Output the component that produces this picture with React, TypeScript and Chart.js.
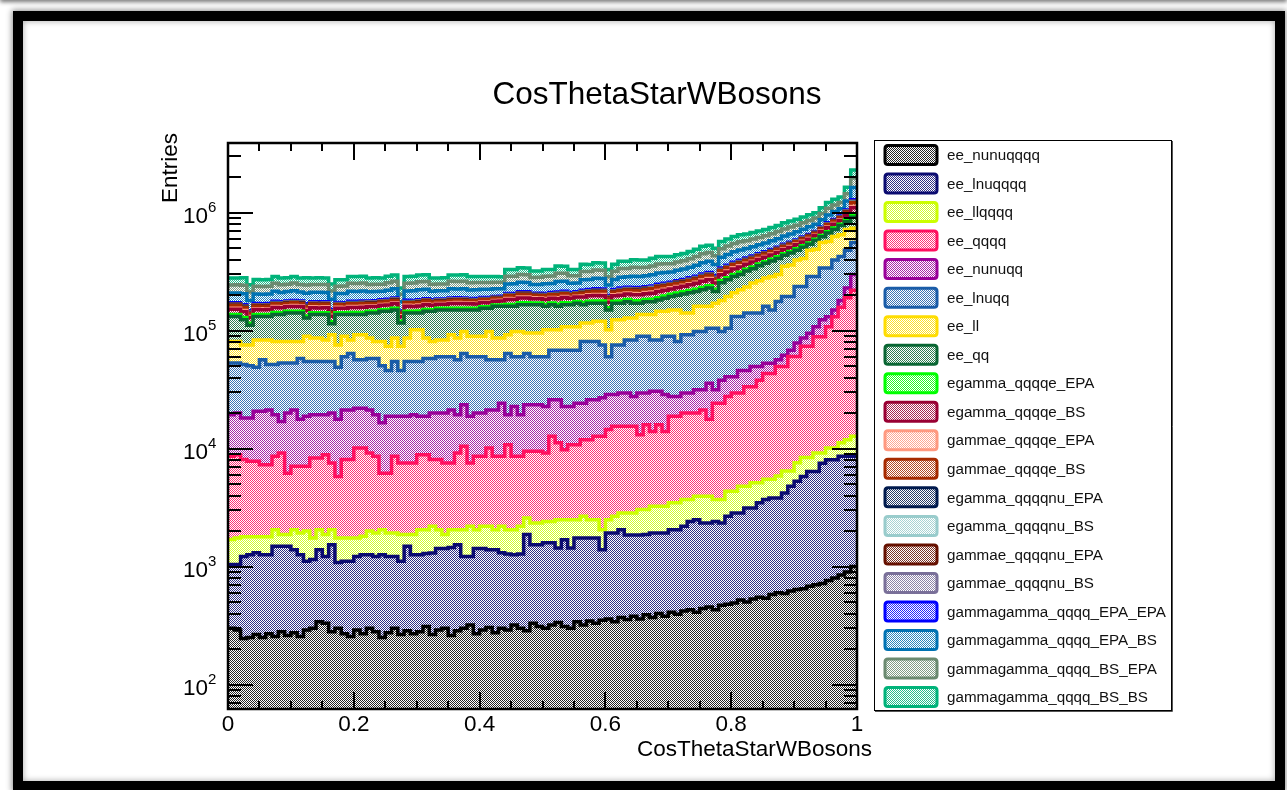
import React, { useEffect, useRef } from "react";
import { Chart, registerables } from "chart.js";

Chart.register(...registerables);

// Histogram binning and axis ranges
const BIN_COUNT = 100;
const X_MIN = 0;
const X_MAX = 1;
const Y_MIN = 62;
const Y_MAX = 3.9e6;

const X_TICK_LABELS = ["0", "0.2", "0.4", "0.6", "0.8", "1"];
const Y_TICK_EXPONENTS = [2, 3, 4, 5, 6];

const TITLE = "CosThetaStarWBosons";
const X_TITLE = "CosThetaStarWBosons";
const Y_TITLE = "Entries";

// Samples, bottom of the stack first
const SAMPLE_NAMES = [
  "ee_nunuqqqq",
  "ee_lnuqqqq",
  "ee_llqqqq",
  "ee_qqqq",
  "ee_nunuqq",
  "ee_lnuqq",
  "ee_ll",
  "ee_qq",
  "egamma_qqqqe_EPA",
  "egamma_qqqqe_BS",
  "gammae_qqqqe_EPA",
  "gammae_qqqqe_BS",
  "egamma_qqqqnu_EPA",
  "egamma_qqqqnu_BS",
  "gammae_qqqqnu_EPA",
  "gammae_qqqqnu_BS",
  "gammagamma_qqqq_EPA_EPA",
  "gammagamma_qqqq_EPA_BS",
  "gammagamma_qqqq_BS_EPA",
  "gammagamma_qqqq_BS_BS",
];

const SAMPLE_COLORS = [
  "#000000",
  "#0b0b70",
  "#ccff00",
  "#ff0f5f",
  "#990099",
  "#1a5ca8",
  "#ffdd00",
  "#0a6633",
  "#00ff00",
  "#990033",
  "#ff9980",
  "#a62a00",
  "#001a4d",
  "#99cccc",
  "#661100",
  "#7a7099",
  "#0000ff",
  "#0073b3",
  "#6b8a70",
  "#00b37a",
];

// Entries per bin for each sample
const ee_nunuqqqq = [
  300, 290, 245, 250, 265, 250, 270, 255, 280, 260,
  275, 255, 290, 300, 340, 330, 280, 300, 270, 255,
  290, 270, 300, 280, 250, 275, 300, 265, 285, 270,
  280, 310, 265, 290, 300, 260, 285, 300, 320, 270,
  290, 305, 275, 300, 290, 320, 300, 285, 330, 310,
  300, 320, 335, 310, 300, 340, 320, 345, 330, 350,
  360, 340, 370, 355, 380, 360, 390, 370, 400, 380,
  410, 395, 420, 430, 410, 440, 455, 430, 470, 480,
  490, 520, 500, 530, 550, 540, 580, 600, 590, 620,
  640, 650, 680, 700, 720, 760, 800, 850, 900, 1000,
];

const ee_lnuqqqq = [
  740, 750, 975, 1010, 1045, 1010, 990, 1235, 1210, 1230,
  1115, 1005, 820, 850, 1050, 890, 1250, 780, 840, 855,
  930, 990, 960, 940, 1010, 945, 920, 845, 1205, 990,
  980, 980, 1035, 1130, 1120, 1190, 1245, 920, 900, 1150,
  1130, 1085, 1115, 1010, 990, 940, 980, 1585, 1200, 1220,
  1290, 1270, 1105, 1380, 1140, 1410, 1430, 1405, 1420, 1040,
  1570, 1590, 1680, 1495, 1470, 1490, 1480, 1560, 1530, 1550,
  1640, 1655, 1780, 1980, 2090, 1900, 1885, 1980, 1870, 2190,
  2360, 2330, 2640, 2610, 2920, 3160, 3240, 3220, 3610, 4180,
  4640, 5150, 5720, 5700, 6810, 7280, 7240, 7750, 7700, 7600,
];

const ee_llqqqq = [
  660, 710, 570, 530, 480, 530, 530, 560, 380, 380,
  660, 670, 890, 600, 660, 650, 520, 670, 640, 640,
  530, 550, 740, 710, 790, 710, 710, 760, 380, 610,
  790, 760, 900, 630, 450, 600, 520, 830, 980, 630,
  780, 810, 660, 890, 770, 790, 920, 710, 810, 810,
  820, 820, 1060, 810, 1060, 750, 920, 750, 750, 660,
  570, 740, 800, 1000, 1000, 1190, 1170, 1320, 1320, 1320,
  1420, 1420, 1500, 1290, 1450, 1610, 1610, 1290, 1360, 1680,
  1500, 1950, 1660, 2000, 1670, 1790, 1670, 2040, 2270, 1670,
  2320, 2600, 2000, 2800, 1670, 2060, 2060, 2600, 3300, 4100,
];

const ee_qqqq = [
  6900, 7140, 6280, 6010, 6010, 5520, 5520, 6550, 7310, 4320,
  5030, 5150, 5080, 6570, 6270, 7020, 5500, 4050, 6320, 6320,
  8350, 8290, 7180, 6670, 4140, 4260, 6670, 5680, 5680, 5680,
  6840, 6840, 5870, 6020, 5680, 5500, 7130, 8410, 5350, 6550,
  6400, 7900, 6550, 6400, 8750, 6550, 6400, 6900, 7140, 7140,
  6770, 10290, 8700, 7300, 8300, 8300, 9230, 9400, 10200, 10650,
  12000, 12830, 12650, 12650, 12650, 10060, 12860, 10750, 12650, 10750,
  15330, 15330, 16300, 16300, 16050, 17350, 13750, 20500, 20500, 23250,
  25250, 24800, 28700, 28360, 32860, 37810, 37810, 43840, 43230, 54030,
  52900, 65500, 65500, 79800, 79800, 97900, 120900, 146800, 178100, 207300,
];

const ee_nunuqq = [
  10800, 11110, 10130, 10400, 12900, 13390, 13990, 10800, 7820, 13810,
  14220, 10620, 11720, 11080, 11080, 10510, 12450, 11900, 13230, 13230,
  11900, 11900, 12120, 10800, 10410, 12610, 10200, 11250, 11250, 11850,
  9910, 9910, 11930, 11930, 12450, 13750, 10220, 13140, 11250, 11400,
  11400, 11200, 12700, 15600, 8600, 14200, 10800, 14120, 14120, 14120,
  13620, 13300, 14800, 13000, 12000, 13400, 12300, 14100, 13300, 14300,
  14200, 13200, 14100, 14100, 12100, 16500, 13700, 16600, 14700, 14700,
  8800, 8800, 9600, 9600, 11600, 10300, 18200, 7400, 13800, 13000,
  11000, 16400, 12500, 16200, 11700, 9700, 9700, 6900, 12300, 7800,
  18200, 12800, 21100, 19000, 35000, 23000, 19000, 22000, 40000, 80000,
];

const ee_lnuqq = [
  33800, 33200, 33500, 32100, 28200, 35900, 30400, 32300, 36200, 33200,
  31900, 40500, 36100, 35500, 35500, 35500, 34900, 31200, 38700, 42700,
  34600, 34600, 36900, 38800, 33700, 27200, 36100, 27200, 36100, 35500,
  36100, 39400, 38200, 40000, 40000, 38700, 37200, 40400, 41200, 40000,
  40000, 35300, 35300, 32400, 44600, 37200, 40600, 40400, 36400, 36400,
  37200, 42300, 42300, 45500, 45500, 44100, 56900, 55100, 55100, 48600,
  31300, 46900, 46000, 53900, 55900, 59900, 59900, 52900, 52900, 60800,
  61900, 53500, 62900, 62900, 67000, 67000, 69100, 73400, 60600, 64400,
  91400, 86000, 95000, 91300, 91300, 108000, 97000, 120400, 133000, 126700,
  158300, 150300, 193000, 180000, 216000, 209000, 248000, 245000, 250000, 260000,
];

const ee_ll = [
  27900, 27900, 23900, 25300, 34600, 26900, 31800, 29400, 27900, 27900,
  27900, 22900, 34600, 31600, 31600, 28600, 37600, 26700, 29500, 19500,
  35900, 35900, 28300, 22900, 30800, 27800, 31600, 27800, 31600, 47100,
  47100, 28300, 22900, 23500, 23500, 32500, 29900, 34600, 29500, 29500,
  29500, 42000, 29900, 29900, 28500, 38600, 38600, 31700, 35700, 35700,
  42000, 33700, 33700, 39700, 39700, 39700, 34900, 34900, 38900, 44400,
  42000, 48400, 48400, 44500, 44500, 47500, 47500, 53500, 62500, 56500,
  60500, 68900, 48500, 48500, 62400, 62400, 56000, 66000, 81400, 90000,
  78000, 90000, 94000, 113000, 124000, 119000, 138000, 123000, 157000, 165000,
  161000, 173000, 192000, 202000, 220000, 230000, 230000, 225000, 240000, 180000,
];

const ee_qq = [
  50900, 50900, 48400, 35400, 48500, 48500, 48500, 55900, 55900, 59900,
  59900, 59900, 38500, 50500, 50500, 53500, 22000, 61400, 47500, 53500,
  44500, 44500, 54500, 59900, 64900, 72200, 63500, 42200, 54500, 39000,
  39000, 59500, 64900, 66500, 66500, 57500, 63500, 51400, 60500, 60500,
  65500, 56400, 74500, 74500, 68500, 62400, 67400, 70300, 70300, 70300,
  59000, 64000, 59000, 58000, 58000, 63000, 50000, 55000, 51000, 51000,
  48000, 47000, 47000, 48000, 43000, 34000, 39000, 39000, 36000, 42000,
  45000, 50000, 64000, 69000, 54000, 61000, 69000, 44000, 75000, 75000,
  78000, 78000, 85000, 81000, 90000, 92000, 102000, 110000, 83000, 95000,
  82000, 100000, 60000, 90000, 65000, 102000, 92000, 130000, 120000, 175000,
];

const egamma_qqqqe_EPA = [
  5200, 5200, 5500, 4700, 4800, 4800, 4800, 5300, 5000, 4900,
  5100, 4900, 5300, 5000, 5000, 5000, 4700, 4700, 4700, 5300,
  5300, 5300, 4900, 4900, 4700, 5000, 5100, 4000, 5100, 5100,
  5500, 5300, 4700, 4600, 4600, 5100, 5100, 5100, 4800, 4800,
  4700, 4700, 4400, 4400, 5900, 5900, 6100, 6100, 5400, 5400,
  5900, 5700, 6700, 6500, 5700, 5600, 7000, 6800, 7100, 7100,
  6300, 6800, 7600, 7400, 7900, 7900, 7800, 8200, 8500, 8300,
  8100, 8400, 8600, 9100, 9600, 10400, 10500, 10000, 11000, 11600,
  12000, 12300, 11900, 12100, 12100, 12200, 12600, 13000, 13500, 13800,
  14000, 14400, 14700, 14700, 16600, 19200, 20300, 20300, 28000, 48500,
];

const egamma_qqqqe_BS = [
  14800, 15000, 15500, 13500, 14000, 13500, 14000, 15000, 14500, 14000,
  14500, 14000, 15000, 14500, 14000, 14500, 13500, 13500, 13000, 15000,
  15000, 15500, 14000, 14000, 13500, 14000, 14500, 11500, 15000, 14500,
  15500, 15000, 13500, 13000, 13000, 14500, 15000, 14500, 14000, 13500,
  13500, 13000, 12500, 13000, 17000, 16500, 17500, 17500, 15500, 15000,
  17000, 16500, 19000, 18500, 16500, 16000, 20000, 19500, 20500, 20000,
  18000, 19500, 21500, 21000, 23000, 22500, 22000, 23500, 24000, 24000,
  23000, 24000, 24500, 26000, 27500, 30000, 30000, 28500, 31500, 33000,
  34000, 35000, 34000, 34500, 34500, 35000, 36000, 37000, 38500, 39500,
  40000, 41000, 42000, 42000, 47500, 55000, 58000, 58000, 80000, 138000,
];

const gammae_qqqqe_EPA = [
  3000, 3000, 3100, 2700, 2800, 2800, 2800, 3000, 2900, 2800,
  2900, 2800, 3000, 2900, 2900, 2900, 2700, 2700, 2700, 3000,
  3000, 3000, 2800, 2800, 2700, 2800, 2900, 2300, 2900, 2900,
  3100, 3000, 2700, 2600, 2600, 2900, 2900, 2900, 2800, 2800,
  2700, 2700, 2500, 2500, 3400, 3400, 3500, 3500, 3100, 3100,
  3400, 3300, 3800, 3700, 3300, 3200, 4000, 3900, 4100, 4100,
  3600, 3900, 4300, 4200, 4500, 4500, 4400, 4700, 4900, 4700,
  4600, 4800, 4900, 5200, 5500, 6000, 6000, 5700, 6300, 6600,
  6800, 7000, 6800, 6900, 6900, 7000, 7200, 7400, 7700, 7900,
  8000, 8200, 8400, 8400, 9500, 11000, 11600, 11600, 16000, 27700,
];

const gammae_qqqqe_BS = [
  8900, 8800, 9400, 8000, 8300, 8300, 8200, 9100, 8600, 8300,
  8800, 8300, 9100, 8600, 8600, 8500, 8000, 8000, 8000, 9100,
  9000, 9100, 8300, 8400, 8000, 8500, 8800, 6800, 8800, 8900,
  9400, 9000, 8000, 7800, 7800, 8800, 8800, 8900, 8300, 8200,
  8000, 8000, 7600, 7600, 10100, 10200, 10400, 10500, 9200, 9300,
  10100, 9800, 11500, 11200, 9800, 9500, 11900, 11600, 12200, 12300,
  10800, 11600, 13000, 12700, 13600, 13600, 13300, 14000, 14600, 14200,
  13800, 14400, 14700, 15600, 16500, 17900, 18000, 17100, 18900, 19800,
  20500, 21000, 20400, 20700, 20700, 20900, 21600, 22200, 23100, 23700,
  24000, 24600, 25200, 25200, 28500, 32900, 34800, 34800, 48000, 83000,
];

const egamma_qqqqnu_EPA = [
  1200, 1200, 1250, 1070, 1100, 1100, 1100, 1200, 1140, 1110,
  1180, 1110, 1220, 1140, 1140, 1140, 1070, 1060, 1060, 1210,
  1210, 1210, 1110, 1110, 1070, 1140, 1180, 910, 1180, 1180,
  1250, 1210, 1070, 1040, 1040, 1180, 1180, 1180, 1100, 1100,
  1060, 1060, 1020, 1020, 1350, 1350, 1390, 1390, 1230, 1230,
  1350, 1310, 1530, 1490, 1310, 1270, 1590, 1550, 1630, 1630,
  1440, 1550, 1740, 1700, 1820, 1820, 1780, 1870, 1940, 1900,
  1840, 1920, 1960, 2080, 2200, 2380, 2400, 2280, 2520, 2640,
  2740, 2800, 2720, 2760, 2760, 2780, 2880, 2960, 3080, 3160,
  3200, 3280, 3360, 3360, 3800, 4380, 4640, 4640, 6400, 11100,
];

const egamma_qqqqnu_BS = [
  890, 890, 940, 800, 830, 830, 830, 910, 860, 830,
  880, 830, 910, 860, 860, 860, 800, 800, 800, 910,
  910, 910, 830, 830, 800, 850, 880, 680, 880, 880,
  940, 910, 800, 780, 780, 880, 880, 880, 830, 830,
  800, 800, 760, 760, 1010, 1010, 1040, 1040, 920, 920,
  1010, 980, 1150, 1120, 980, 950, 1190, 1160, 1220, 1220,
  1080, 1160, 1300, 1270, 1360, 1360, 1330, 1400, 1460, 1420,
  1380, 1440, 1470, 1560, 1650, 1790, 1800, 1710, 1890, 1980,
  2050, 2100, 2040, 2070, 2070, 2090, 2160, 2220, 2310, 2370,
  2400, 2460, 2520, 2520, 2850, 3290, 3480, 3480, 4800, 8300,
];

const gammae_qqqqnu_EPA = [
  1150, 1250, 1200, 1100, 1080, 1120, 1090, 1230, 1120, 1130,
  1160, 1130, 1200, 1160, 1120, 1150, 1060, 1080, 1050, 1220,
  1190, 1230, 1100, 1120, 1060, 1150, 1170, 920, 1190, 1170,
  1260, 1200, 1080, 1030, 1050, 1170, 1190, 1170, 1110, 1090,
  1070, 1050, 1030, 1010, 1360, 1340, 1400, 1380, 1240, 1220,
  1360, 1300, 1540, 1480, 1320, 1260, 1600, 1540, 1640, 1620,
  1450, 1540, 1750, 1690, 1830, 1810, 1790, 1860, 1950, 1890,
  1850, 1910, 1970, 2070, 2210, 2370, 2410, 2270, 2530, 2630,
  2750, 2790, 2730, 2750, 2770, 2770, 2890, 2950, 3090, 3150,
  3210, 3270, 3370, 3350, 3810, 4370, 4650, 4630, 6410, 11000,
];

const gammae_qqqqnu_BS = [
  870, 910, 930, 810, 820, 840, 820, 920, 850, 840,
  870, 840, 900, 870, 850, 870, 790, 810, 790, 920,
  900, 920, 820, 840, 790, 860, 870, 690, 890, 870,
  950, 900, 810, 770, 790, 870, 890, 870, 840, 820,
  810, 790, 770, 750, 1020, 1000, 1050, 1030, 930, 910,
  1020, 970, 1160, 1110, 990, 940, 1200, 1150, 1230, 1210,
  1090, 1150, 1310, 1260, 1370, 1350, 1340, 1390, 1470, 1410,
  1390, 1430, 1480, 1550, 1660, 1780, 1810, 1700, 1900, 1970,
  2060, 2090, 2050, 2060, 2080, 2080, 2170, 2210, 2320, 2360,
  2410, 2450, 2530, 2510, 2860, 3280, 3490, 3470, 4810, 8290,
];

const gammagamma_qqqq_EPA_EPA = [
  4100, 4100, 4400, 3800, 3900, 3900, 3900, 4200, 4000, 3900,
  4100, 3900, 4300, 4000, 4000, 4000, 3800, 3700, 3700, 4200,
  4200, 4200, 3900, 3900, 3800, 4000, 4100, 3200, 4100, 4100,
  4400, 4200, 3800, 3600, 3600, 4100, 4100, 4100, 3900, 3900,
  3700, 3700, 3600, 3600, 4700, 4700, 4900, 4900, 4300, 4300,
  4700, 4600, 5300, 5200, 4600, 4500, 5600, 5400, 5700, 5700,
  5000, 5400, 6100, 5900, 6400, 6400, 6200, 6600, 6800, 6600,
  6400, 6700, 6900, 7300, 7700, 8300, 8400, 8000, 8800, 9200,
  9600, 9800, 9500, 9700, 9700, 9700, 10100, 10400, 10800, 11100,
  11200, 11500, 11800, 11800, 13300, 15300, 16200, 16200, 22400, 38800,
];

const gammagamma_qqqq_EPA_BS = [
  37000, 36500, 39500, 33000, 35000, 34000, 35500, 38000, 35000, 35500,
  37000, 34000, 38500, 35500, 36500, 35000, 33500, 33000, 34000, 38000,
  37500, 38500, 34500, 35500, 33000, 36000, 37000, 29000, 36000, 37500,
  39000, 38000, 33000, 32500, 33000, 37000, 36000, 37500, 34000, 35000,
  33000, 34000, 32000, 31000, 42000, 43000, 44000, 43000, 38000, 39000,
  42500, 41000, 48000, 46000, 41500, 39500, 50000, 48000, 51500, 50500,
  45000, 48500, 54500, 53000, 57000, 56000, 55500, 58500, 61000, 59000,
  57500, 60000, 61500, 65000, 69000, 74500, 75500, 71000, 79000, 82500,
  85500, 87500, 85000, 86500, 86000, 87000, 90000, 92500, 96000, 99000,
  100000, 102500, 105000, 105000, 119000, 137000, 145000, 145000, 200000, 346000,
];

const gammagamma_qqqq_BS_EPA = [
  35000, 36000, 37000, 32500, 33000, 33500, 32500, 36500, 34500, 33000,
  35500, 33500, 36000, 34500, 34000, 35000, 32000, 32000, 32500, 36500,
  36000, 36500, 33000, 33500, 32500, 34000, 35500, 27500, 35000, 35000,
  37500, 36500, 32000, 31500, 31000, 35500, 35500, 35000, 33000, 33500,
  32000, 31500, 30500, 30500, 40500, 40500, 42000, 41500, 37000, 37000,
  40500, 39500, 46000, 44500, 39500, 38000, 48000, 46500, 49000, 49000,
  43000, 46500, 52000, 51000, 54500, 54500, 53000, 56000, 58500, 57000,
  55000, 57500, 59000, 62500, 66000, 71500, 72000, 68500, 75500, 79000,
  82000, 84000, 81500, 83000, 83000, 83500, 86500, 89000, 92500, 95000,
  96000, 98500, 101000, 101000, 114000, 131500, 139000, 139000, 192000, 332000,
];

const gammagamma_qqqq_BS_BS = [
  36000, 35000, 38000, 31500, 33500, 33000, 34000, 36000, 34000, 33500,
  35000, 33000, 37000, 34000, 34500, 33500, 32500, 31500, 31500, 36000,
  36500, 36000, 33500, 33000, 32000, 34500, 35000, 27000, 35500, 35500,
  37000, 36000, 32500, 31000, 31500, 35000, 35000, 35500, 33000, 33000,
  32000, 32000, 30500, 30000, 41000, 40500, 41500, 42000, 37000, 36500,
  40500, 39000, 46000, 44500, 39000, 38500, 48000, 46500, 49000, 49500,
  43500, 46500, 52000, 51000, 54000, 55000, 53500, 56500, 58000, 57000,
  55500, 57500, 58500, 62000, 66000, 71500, 72000, 68000, 75500, 79000,
  82000, 84000, 81500, 82500, 83000, 83500, 86500, 88500, 92500, 94500,
  96000, 98500, 100500, 101000, 114000, 131500, 139500, 139000, 192000, 332000,
];

const SAMPLE_VALUES = [
  ee_nunuqqqq,
  ee_lnuqqqq,
  ee_llqqqq,
  ee_qqqq,
  ee_nunuqq,
  ee_lnuqq,
  ee_ll,
  ee_qq,
  egamma_qqqqe_EPA,
  egamma_qqqqe_BS,
  gammae_qqqqe_EPA,
  gammae_qqqqe_BS,
  egamma_qqqqnu_EPA,
  egamma_qqqqnu_BS,
  gammae_qqqqnu_EPA,
  gammae_qqqqnu_BS,
  gammagamma_qqqq_EPA_EPA,
  gammagamma_qqqq_EPA_BS,
  gammagamma_qqqq_BS_EPA,
  gammagamma_qqqq_BS_BS,
];

const FONT = '"Liberation Sans", Arial, Helvetica, sans-serif';
const CANVAS_W = 1287;
const CANVAS_H = 790;

// Blend a hex colour towards white by fraction t
function tint(hex: string, t: number): string {
  const n = parseInt(hex.slice(1), 16);
  const r = (n >> 16) & 255, g = (n >> 8) & 255, b = n & 255;
  const f = (c: number) => Math.round(c + (255 - c) * t);
  return `rgb(${f(r)},${f(g)},${f(b)})`;
}

// One-pixel checkerboard fill in the sample colour
function checkerPattern(color: string): CanvasPattern {
  const tile = document.createElement("canvas");
  tile.width = 2;
  tile.height = 2;
  const g = tile.getContext("2d")!;
  g.fillStyle = "#ffffff";
  g.fillRect(0, 0, 2, 2);
  g.fillStyle = tint(color, 0.15);
  g.fillRect(0, 0, 1, 1);
  g.fillRect(1, 1, 1, 1);
  return g.createPattern(tile, "repeat")!;
}

function roundRect(ctx: CanvasRenderingContext2D, x: number, y: number, w: number, h: number, r: number) {
  ctx.beginPath();
  ctx.moveTo(x + r, y);
  ctx.lineTo(x + w - r, y);
  ctx.quadraticCurveTo(x + w, y, x + w, y + r);
  ctx.lineTo(x + w, y + h - r);
  ctx.quadraticCurveTo(x + w, y + h, x + w - r, y + h);
  ctx.lineTo(x + r, y + h);
  ctx.quadraticCurveTo(x, y + h, x, y + h - r);
  ctx.lineTo(x, y + r);
  ctx.quadraticCurveTo(x, y, x + r, y);
  ctx.closePath();
}

// Frame, inward ticks, labels, titles and legend
const decorPlugin = {
  id: "rootDecor",
  afterDraw(chart: any) {
    const ctx: CanvasRenderingContext2D = chart.ctx;
    const a = chart.chartArea;
    const xs = chart.scales.x;
    const ys = chart.scales.y;
    ctx.save();

    const seg = (x1: number, y1: number, x2: number, y2: number) => {
      ctx.beginPath();
      ctx.moveTo(x1, y1);
      ctx.lineTo(x2, y2);
      ctx.stroke();
    };

    ctx.strokeStyle = "#000";
    ctx.lineWidth = 2;
    ctx.lineCap = "butt";

    // y ticks, left and right
    for (let e = 1; e <= 7; e++) {
      for (let m = 1; m <= 9; m++) {
        const v = m * Math.pow(10, e);
        if (v < Y_MIN || v > Y_MAX) continue;
        const py = Math.round(ys.getPixelForValue(v));
        const len = m === 1 ? 25 : 13;
        seg(a.left, py, a.left + len, py);
        seg(a.right, py, a.right - len, py);
      }
    }

    // x ticks, bottom and top
    for (let i = 0; i <= 20; i++) {
      const v = X_MIN + (i * (X_MAX - X_MIN)) / 20;
      const px = Math.round(xs.getPixelForValue(v));
      const len = i % 4 === 0 ? 17 : 8;
      seg(px, a.bottom, px, a.bottom - len);
      seg(px, a.top, px, a.top + len);
    }

    // frame
    ctx.lineWidth = 2.5;
    ctx.strokeRect(a.left, a.top, a.right - a.left, a.bottom - a.top);

    // x tick labels
    ctx.fillStyle = "#000";
    ctx.font = `22.5px ${FONT}`;
    ctx.textAlign = "center";
    ctx.textBaseline = "alphabetic";
    X_TICK_LABELS.forEach((lab) => {
      const px = xs.getPixelForValue(parseFloat(lab));
      ctx.fillText(lab, px, 731);
    });

    // y tick labels 10^n
    Y_TICK_EXPONENTS.forEach((e) => {
      const py = ys.getPixelForValue(Math.pow(10, e));
      ctx.font = `22.5px ${FONT}`;
      ctx.textAlign = "right";
      ctx.fillText("10", 208, py + 10);
      ctx.font = `15px ${FONT}`;
      ctx.textAlign = "left";
      ctx.fillText(String(e), 208, py - 1);
    });

    // titles
    ctx.font = `31.5px ${FONT}`;
    ctx.textAlign = "center";
    ctx.fillText(TITLE, 657, 104);

    ctx.font = `22.5px ${FONT}`;
    ctx.textAlign = "right";
    ctx.fillText(X_TITLE, 872, 756);

    ctx.save();
    ctx.translate(177, 133);
    ctx.rotate(-Math.PI / 2);
    ctx.textAlign = "right";
    ctx.fillText(Y_TITLE, 0, 0);
    ctx.restore();

    // legend
    const lx = 874, ly = 140, lw = 297, lh = 570;
    ctx.fillStyle = "#fff";
    ctx.fillRect(lx, ly, lw, lh);
    ctx.strokeStyle = "#000";
    ctx.lineWidth = 1;
    ctx.strokeRect(lx + 0.5, ly + 0.5, lw, lh);
    ctx.strokeStyle = "#555";
    seg(lx + 1, ly + lh + 1.5, lx + lw + 1.5, ly + lh + 1.5);
    seg(lx + lw + 1.5, ly + 1, lx + lw + 1.5, ly + lh + 1.5);

    const rowH = 28.53;
    SAMPLE_NAMES.forEach((name, k) => {
      const cy = 155 + k * rowH;
      roundRect(ctx, 885, cy - 9.5, 52, 19, 3);
      ctx.fillStyle = checkerPattern(SAMPLE_COLORS[k]);
      ctx.fill();
      ctx.strokeStyle = SAMPLE_COLORS[k];
      ctx.lineWidth = 3;
      ctx.stroke();
      ctx.fillStyle = "#111";
      ctx.font = `15.2px ${FONT}`;
      ctx.textAlign = "left";
      ctx.textBaseline = "middle";
      ctx.fillText(name, 947, cy + 1);
      ctx.textBaseline = "alphabetic";
    });

    ctx.restore();
  },
};

export default function App() {
  const canvasRef = useRef<HTMLCanvasElement>(null);

  useEffect(() => {
    const canvas = canvasRef.current;
    if (!canvas) return;

    const datasets = SAMPLE_NAMES.map((name, k) => {
      const vals = SAMPLE_VALUES[k];
      const pts = vals.map((v, i) => ({ x: X_MIN + (i * (X_MAX - X_MIN)) / BIN_COUNT, y: v }));
      pts.push({ x: X_MAX, y: vals[vals.length - 1] });
      return {
        label: name,
        data: pts,
        borderColor: SAMPLE_COLORS[k],
        borderWidth: 3.5,
        backgroundColor: checkerPattern(SAMPLE_COLORS[k]),
        fill: k === 0 ? "start" : "-1",
        stepped: true,
        pointRadius: 0,
        borderJoinStyle: "miter",
        borderCapStyle: "butt",
      };
    });

    const chart = new Chart(canvas, {
      type: "line",
      data: { datasets } as any,
      options: {
        responsive: false,
        animation: false,
        events: [],
        layout: { padding: { left: 228, top: 143, right: CANVAS_W - 857, bottom: CANVAS_H - 709 } },
        scales: {
          x: { type: "linear", min: X_MIN, max: X_MAX, display: false },
          y: { type: "logarithmic", min: Y_MIN, max: Y_MAX, stacked: true, display: false },
        },
        plugins: {
          legend: { display: false },
          tooltip: { enabled: false },
          title: { display: false },
        },
      } as any,
      plugins: [decorPlugin],
    });

    return () => chart.destroy();
  }, []);

  return (
    <div
      style={{
        position: "fixed",
        left: 0,
        top: 0,
        width: CANVAS_W,
        height: CANVAS_H,
        background: "#fff",
        overflow: "hidden",
      }}
    >
      <div
        style={{
          position: "absolute",
          left: 0,
          top: -6,
          width: CANVAS_W,
          height: 6,
          boxShadow: "0 2px 4px rgba(0,0,0,0.55)",
          background: "#fff",
        }}
      />
      <div
        style={{
          position: "absolute",
          left: 13,
          top: 11,
          width: 1272,
          height: 780,
          boxSizing: "border-box",
          border: "10px solid #000",
          boxShadow: "0 0 6px 1px rgba(0,0,0,0.45), inset 0 0 6px rgba(0,0,0,0.35)",
        }}
      />
      <canvas
        ref={canvasRef}
        width={CANVAS_W}
        height={CANVAS_H}
        style={{ position: "absolute", left: 0, top: 0 }}
      />
    </div>
  );
}
